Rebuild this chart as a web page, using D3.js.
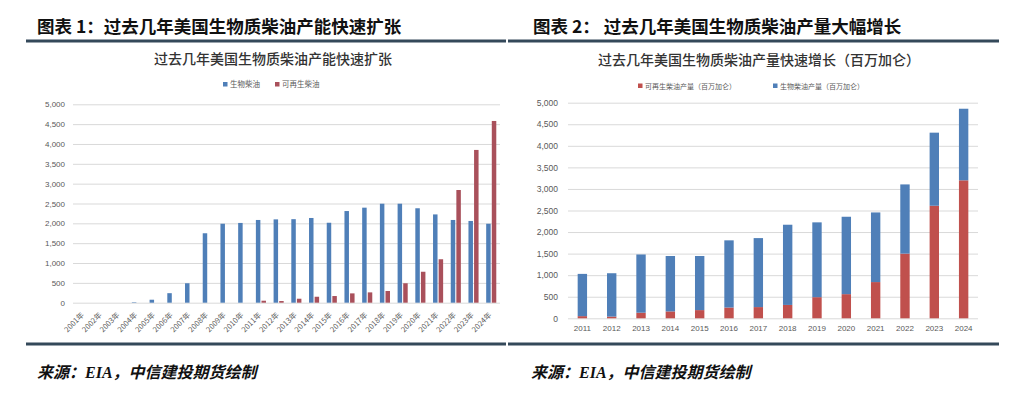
<!DOCTYPE html>
<html>
<head>
<meta charset="utf-8">
<script src="https://cdn.jsdelivr.net/npm/d3@7"></script>
<style>
  body { margin: 0; background: #fff; }
  text { font-family: "Liberation Sans", "Noto Sans CJK SC", sans-serif; }
  .cjk { font-family: "Noto Sans CJK SC", sans-serif; }
</style>
</head>
<body>
<div id="chart"></div>
<script>
// chart 1: capacity (million gallons)
var capYears = ["2001年","2002年","2003年","2004年","2005年","2006年","2007年","2008年","2009年","2010年","2011年","2012年",
  "2013年","2014年","2015年","2016年","2017年","2018年","2019年","2020年","2021年","2022年","2023年","2024年"];
var capBio = [0, 0, 0, 12, 75, 240, 490, 1750, 1990, 2010, 2085, 2100, 2105, 2135, 2015, 2310, 2395, 2495, 2495, 2380, 2225, 2085, 2060, 1990];
var capRd = [0, 0, 0, 0, 0, 0, 0, 0, 0, 0, 50, 42, 100, 150, 168, 235, 260, 295, 490, 780, 1095, 2840, 3850, 4580];

// chart 2: production (million gallons), stacked
var prodYears = ["2011","2012","2013","2014","2015","2016","2017","2018","2019","2020","2021","2022","2023","2024"];
var prodRd = [50, 40, 130, 160, 190, 250, 260, 310, 490, 560, 840, 1500, 2610, 3200];
var prodBio = [980, 1005, 1350, 1285, 1255, 1558, 1600, 1860, 1735, 1795, 1615, 1605, 1695, 1660];

var yTicks = [0, 500, 1000, 1500, 2000, 2500, 3000, 3500, 4000, 4500, 5000];

var blue = "#4f7fb8",
  redL = "#a9505b",
  redR = "#c0504d",
  grid = "#d9d9d9",
  tickColor = "#595959";

var width = 1012,
  height = 399;

var svg = d3.select("#chart")
  .append("svg")
  .attr("width", width)
  .attr("height", height)

// headers, rules, footers
svg.append("text").attr("class", "cjk")
  .attr("x", 37).attr("y", 33)
  .attr("font-size", "17.5px").attr("font-weight", "bold").attr("fill", "#111")
  .text("图表 1：过去几年美国生物质柴油产能快速扩张")
svg.append("text").attr("class", "cjk")
  .attr("x", 533).attr("y", 33)
  .attr("font-size", "17.5px").attr("font-weight", "bold").attr("fill", "#111")
  .text("图表 2： 过去几年美国生物质柴油产量大幅增长")

;[[26, 506], [508, 999]].forEach(function (r) {
  svg.append("line").attr("x1", r[0]).attr("x2", r[1]).attr("y1", 41).attr("y2", 41)
    .attr("stroke", "#34495a").attr("stroke-width", 3)
  svg.append("line").attr("x1", r[0]).attr("x2", r[1]).attr("y1", 344).attr("y2", 344)
    .attr("stroke", "#34495a").attr("stroke-width", 3)
})

;[37, 531].forEach(function (x) {
  var t = svg.append("text").attr("class", "cjk")
    .attr("x", x).attr("y", 378)
    .attr("font-size", "16px").attr("font-weight", "bold").attr("font-style", "italic").attr("fill", "#111")
  t.append("tspan").text("来源：")
  t.append("tspan").attr("font-family", "Liberation Serif").text("EIA")
  t.append("tspan").text("，中信建投期货绘制")
})

// ---------- chart 1 ----------
var xL = d3.scaleBand().domain(capYears).range([75, 500]).paddingInner(0.43).paddingOuter(0.21);
var subL = d3.scaleBand().domain(["bio", "rd"]).range([0, xL.bandwidth()]).paddingInner(0.2);
var yL = d3.scaleLinear().domain([0, 5000]).range([302.7, 104.3]);

svg.append("text").attr("class", "cjk")
  .attr("x", 273).attr("y", 64).attr("text-anchor", "middle")
  .attr("font-size", "14px").attr("font-weight", 500).attr("fill", "#333")
  .text("过去几年美国生物质柴油产能快速扩张")

var legL = [["生物柴油", blue, 223], ["可再生柴油", redL, 275]];
legL.forEach(function (d) {
  svg.append("rect").attr("x", d[2]).attr("y", 82).attr("width", 4.5).attr("height", 4.5).attr("fill", d[1])
  svg.append("text").attr("class", "cjk").attr("x", d[2] + 7).attr("y", 87.2)
    .attr("font-size", "7.5px").attr("fill", tickColor).text(d[0])
})

svg.append("g")
  .attr("transform", "translate(73,0)")
  .call(d3.axisLeft(yL).tickValues(yTicks).tickSize(-(500 - 73)).tickPadding(8).tickFormat(d3.format(",")))
  .call(function (g) {
    g.select(".domain").remove()
    g.selectAll("line").attr("stroke", grid)
    g.selectAll("text").attr("fill", tickColor).attr("font-size", "8px")
  })

svg.append("g")
  .selectAll("rect.bio")
  .data(capYears)
  .enter().append("rect")
  .attr("x", function (d) { return xL(d) + subL("bio"); })
  .attr("width", subL.bandwidth())
  .attr("y", function (d, i) { return yL(capBio[i]); })
  .attr("height", function (d, i) { return yL(0) - yL(capBio[i]); })
  .attr("fill", blue)

svg.append("g")
  .selectAll("rect.rd")
  .data(capYears)
  .enter().append("rect")
  .attr("x", function (d) { return xL(d) + subL("rd"); })
  .attr("width", subL.bandwidth())
  .attr("y", function (d, i) { return yL(capRd[i]); })
  .attr("height", function (d, i) { return yL(0) - yL(capRd[i]); })
  .attr("fill", redL)

svg.append("g")
  .attr("transform", "translate(0," + yL(0) + ")")
  .call(d3.axisBottom(xL).tickSize(0).tickPadding(0))
  .call(function (g) {
    g.select(".domain").remove()
    g.selectAll("text")
      .attr("class", "cjk")
      .attr("y", 0).attr("dy", "0.35em")
      .attr("transform", "translate(-1,11) rotate(-45)")
      .attr("text-anchor", "end")
      .attr("fill", tickColor).attr("font-size", "7.5px")
  })

// ---------- chart 2 ----------
var xR = d3.scaleBand().domain(prodYears).range([567.7, 978.3]).paddingInner(0.68).paddingOuter(0.34);
var yR = d3.scaleLinear().domain([0, 5000]).range([318.3, 102.7]);

svg.append("text").attr("class", "cjk")
  .attr("x", 759).attr("y", 65).attr("text-anchor", "middle")
  .attr("font-size", "14px").attr("font-weight", 500).attr("fill", "#333")
  .text("过去几年美国生物质柴油产量快速增长（百万加仑）")

var legR = [["可再生柴油产量（百万加仑）", redR, 638], ["生物柴油产量（百万加仑）", blue, 773]];
legR.forEach(function (d) {
  svg.append("rect").attr("x", d[2]).attr("y", 83.5).attr("width", 4.5).attr("height", 4.5).attr("fill", d[1])
  svg.append("text").attr("class", "cjk").attr("x", d[2] + 7).attr("y", 88.5)
    .attr("font-size", "7px").attr("fill", tickColor).text(d[0])
})

svg.append("g")
  .attr("transform", "translate(568,0)")
  .call(d3.axisLeft(yR).tickValues(yTicks).tickSize(-(978 - 568)).tickPadding(10).tickFormat(d3.format(",")))
  .call(function (g) {
    g.select(".domain").remove()
    g.selectAll("line").attr("stroke", grid)
    g.selectAll("text").attr("fill", tickColor).attr("font-size", "8.5px")
  })

var prodTable = prodYears.map(function (y, i) {
  return { year: y, rd: prodRd[i], bio: prodBio[i] };
});
var stacked = d3.stack().keys(["rd", "bio"])(prodTable);
var colorR = { rd: redR, bio: blue };

svg.append("g")
  .selectAll("g")
  .data(stacked)
  .enter().append("g")
  .attr("fill", function (s) { return colorR[s.key]; })
  .selectAll("rect")
  .data(function (s) { return s; })
  .enter().append("rect")
  .attr("x", function (d) { return xR(d.data.year); })
  .attr("width", xR.bandwidth())
  .attr("y", function (d) { return yR(d[1]); })
  .attr("height", function (d) { return yR(d[0]) - yR(d[1]); })

svg.append("g")
  .attr("transform", "translate(0," + yR(0) + ")")
  .call(d3.axisBottom(xR).tickSize(0).tickPadding(7))
  .call(function (g) {
    g.select(".domain").remove()
    g.selectAll("text").attr("fill", tickColor).attr("font-size", "8px")
  })
</script>
</body>
</html>
